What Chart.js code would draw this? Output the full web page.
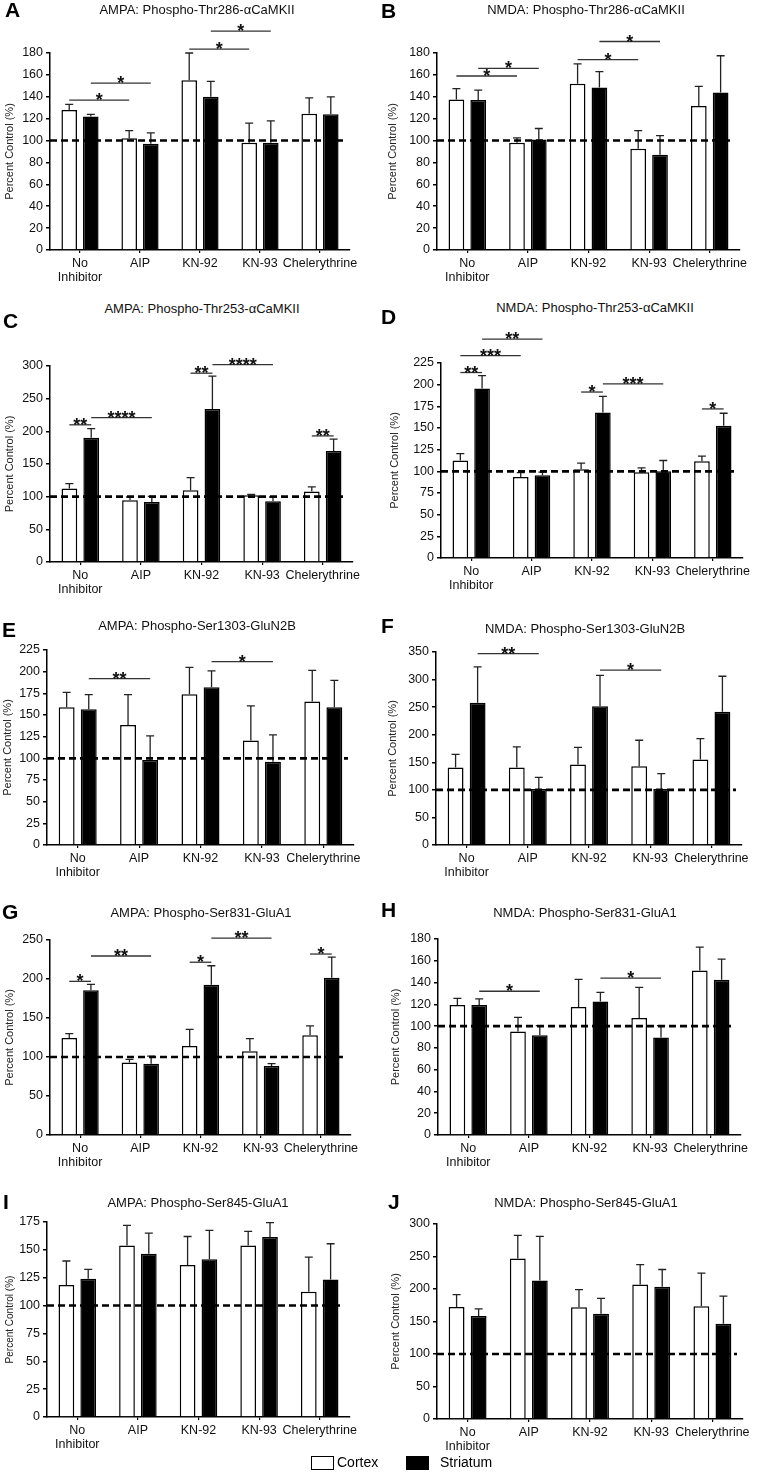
<!DOCTYPE html>
<html>
<head>
<meta charset="utf-8">
<script src="https://cdn.jsdelivr.net/npm/chart.js@4.4.0/dist/chart.umd.min.js"></script>
<style>
  body { margin:0; background:#fff; font-family:"Liberation Sans", Arial, sans-serif; }
  #wrap { position:relative; width:757px; height:1482px; overflow:hidden; }
  canvas { position:absolute; }
  .ttl { position:absolute; font-size:13px; color:#111; white-space:nowrap; transform:translate(-50%,-50%); }
  .let { position:absolute; font-size:21px; font-weight:bold; color:#000; transform:translateY(-50%); }
  .leg { position:absolute; font-size:14px; color:#000; top:1454px; }
  .box { position:absolute; top:1456px; width:21px; height:12px; border:1.5px solid #000; }
</style>
</head>
<body>
<div id="wrap"></div>
<script>
let categories = [['No','Inhibitor'],'AIP','KN-92','KN-93','Chelerythrine']
let seriesNames = ['Cortex','Striatum']

// values, percent of control
let aCortex = [128, 102, 155, 98, 124.5]
let aCortexSem = [5, 7, 25, 18, 14.5]
let aStriatum = [122, 97, 140, 98, 124]
let aStriatumSem = [2, 10, 14, 20, 16]
let aStars = [[0,0,1,0,137,'*'],[0,1,1,1,152.5,'*'],[2,0,3,0,183.5,'*'],[2,1,3,1,200,'*']]

let bCortex = [137.5, 98, 152, 92.5, 131.5]
let bCortexSem = [10, 4.5, 18, 16.5, 18]
let bStriatum = [137, 101, 148.5, 87, 144]
let bStriatumSem = [9, 10, 14.5, 17.5, 33.5]
let bStars = [[0,0,1,0,159,'*'],[0,1,1,1,166,'*'],[2,0,3,0,174,'*'],[2,1,3,1,190.5,'*']]

let cCortex = [112.5, 94.5, 110, 102, 108]
let cCortexSem = [7.5, 5, 19, 1.5, 7]
let cStriatum = [190, 92, 234, 93, 170]
let cStriatumSem = [14, 8.5, 50.5, 6.5, 18]
let cStars = [[0,0,0,1,210,'**'],[0,1,1,1,221,'****'],[2,0,2,1,289,'**'],[2,1,3,1,302,'****'],[4,0,4,1,193,'**']]

let dCortex = [112.5, 93.5, 102.5, 99, 111.5]
let dCortexSem = [8, 5, 7, 5, 6]
let dStriatum = [195.5, 95.5, 168, 100, 152.5]
let dStriatumSem = [15, 3.5, 18.5, 12.5, 14.5]
let dStars = [[0,0,0,1,214,'**'],[0,0,1,0,233.5,'***'],[0,1,1,1,252.5,'**'],[2,0,2,1,191.5,'*'],[2,1,3,1,201,'***'],[4,0,4,1,172,'*']]

let eCortex = [159, 138.5, 174, 120.5, 165.5]
let eCortexSem = [17, 35, 31, 40, 36]
let eStriatum = [156.5, 98, 182, 96, 159]
let eStriatumSem = [17, 28, 19, 31, 31]
let eStars = [[0,1,1,1,192,'**'],[2,1,3,1,211.5,'*']]

let fCortex = [140.5, 140.5, 146, 143, 155]
let fCortexSem = [24, 37.5, 31, 47, 38]
let fStriatum = [258, 101.5, 251.5, 101.5, 241.5]
let fStriatumSem = [65, 21, 56, 28, 64.5]
let fStars = [[0,1,1,1,347,'**'],[2,1,3,1,317,'*']]

let gCortex = [124.5, 93, 114, 107.5, 128]
let gCortexSem = [5.5, 4, 21.5, 16, 12]
let gStriatum = [185.5, 91.5, 192.5, 88.5, 201.5]
let gStriatumSem = [7.5, 9.5, 24.5, 3, 26.5]
let gStars = [[0,0,0,1,197,'*'],[0,1,1,1,229.5,'**'],[2,0,2,1,221.5,'*'],[2,1,3,1,252.5,'**'],[4,0,4,1,232,'*']]

let hCortex = [119.5, 95, 117.5, 107.5, 151]
let hCortexSem = [6, 13, 25.5, 28, 21.5]
let hStriatum = [119.5, 91.5, 122.5, 89.5, 142.5]
let hStriatumSem = [5.5, 9, 8.5, 11, 19]
let hStars = [[0,1,1,1,132,'*'],[2,1,3,1,144,'*']]

let iCortex = [118.5, 154, 136.5, 154, 112.5]
let iCortexSem = [21.5, 18, 25.5, 12.5, 31]
let iStriatum = [124, 146.5, 141.5, 161.5, 123.5]
let iStriatumSem = [8.5, 18.5, 26, 13, 32]
let iStars = []

let jCortex = [172.5, 247, 172, 207, 173.5]
let jCortexSem = [19, 35.5, 27, 30.5, 51]
let jStriatum = [158.5, 213, 162, 203.5, 146.5]
let jStriatumSem = [11, 68, 23.5, 26.5, 42.5]
let jStars = []

let panelLetters = ['A','B','C','D','E','F','G','H','I','J']
let panelTitles = [
  'AMPA: Phospho-Thr286-\u03b1CaMKII', 'NMDA: Phospho-Thr286-\u03b1CaMKII',
  'AMPA: Phospho-Thr253-\u03b1CaMKII', 'NMDA: Phospho-Thr253-\u03b1CaMKII',
  'AMPA: Phospho-Ser1303-GluN2B', 'NMDA: Phospho-Ser1303-GluN2B',
  'AMPA: Phospho-Ser831-GluA1', 'NMDA: Phospho-Ser831-GluA1',
  'AMPA: Phospho-Ser845-GluA1', 'NMDA: Phospho-Ser845-GluA1'
]
let yMax = [180, 180, 300, 225, 225, 350, 250, 180, 175, 300]
let yStep = [20, 20, 50, 25, 25, 50, 50, 20, 25, 50]

let panelData = [
  [aCortex, aCortexSem, aStriatum, aStriatumSem, aStars],
  [bCortex, bCortexSem, bStriatum, bStriatumSem, bStars],
  [cCortex, cCortexSem, cStriatum, cStriatumSem, cStars],
  [dCortex, dCortexSem, dStriatum, dStriatumSem, dStars],
  [eCortex, eCortexSem, eStriatum, eStriatumSem, eStars],
  [fCortex, fCortexSem, fStriatum, fStriatumSem, fStars],
  [gCortex, gCortexSem, gStriatum, gStriatumSem, gStars],
  [hCortex, hCortexSem, hStriatum, hStriatumSem, hStars],
  [iCortex, iCortexSem, iStriatum, iStriatumSem, iStars],
  [jCortex, jCortexSem, jStriatum, jStriatumSem, jStars]
]

// layout: plot area left, top, right, bottom ; y title x ; title centre x,y ; letter x,y
let layout = [
  {l:50, t:53, r:350, b:250, tx:10, hx:197, hy:9, lx:5, ly:10},
  {l:437, t:53, r:740, b:250, tx:15, hx:586, hy:9, lx:381, ly:11},
  {l:50, t:366, r:353, b:562, tx:10, hx:202, hy:308, lx:3, ly:321},
  {l:441, t:363, r:743, b:558, tx:17, hx:595, hy:307, lx:381, ly:317},
  {l:47, t:650, r:354, b:845, tx:8, hx:197, hy:625, lx:2, ly:630},
  {l:436, t:652, r:742, b:845, tx:15, hx:585, hy:628, lx:381, ly:626},
  {l:50, t:940, r:351, b:1135, tx:10, hx:201, hy:912, lx:2, ly:912},
  {l:438, t:939, r:741, b:1135, tx:18, hx:585, hy:912, lx:381, ly:910},
  {l:47, t:1222, r:350, b:1417, tx:11, hx:198, hy:1202, lx:3, ly:1202},
  {l:437, t:1224, r:743, b:1419, tx:18, hx:586, hy:1202, lx:388, ly:1202}
]

const FONT = '"Liberation Sans", Arial, sans-serif'

const extras = {
  id: 'extras',
  afterDatasetsDraw(chart) {
    const ctx = chart.ctx
    const y = chart.scales.y
    const area = chart.chartArea
    const sems = chart.options.plugins.extras.sems
    const stars = chart.options.plugins.extras.stars
    ctx.save()
    // error bars (upper only)
    ctx.strokeStyle = '#222'
    ctx.lineWidth = 1.3
    chart.data.datasets.forEach((ds, di) => {
      chart.getDatasetMeta(di).data.forEach((bar, i) => {
        const top = y.getPixelForValue(ds.data[i] + sems[di][i])
        ctx.beginPath()
        ctx.moveTo(bar.x, bar.y)
        ctx.lineTo(bar.x, top)
        ctx.moveTo(bar.x - 4, top)
        ctx.lineTo(bar.x + 4, top)
        ctx.stroke()
      })
    })
    // control line at 100 %
    const y100 = y.getPixelForValue(100)
    ctx.strokeStyle = '#000'
    ctx.lineWidth = 2.6
    ctx.setLineDash([7, 4])
    ctx.beginPath()
    ctx.moveTo(area.left, y100)
    ctx.lineTo(area.right - 6, y100)
    ctx.stroke()
    ctx.setLineDash([])
    // significance brackets
    ctx.strokeStyle = '#333'
    ctx.lineWidth = 1.3
    ctx.fillStyle = '#111'
    ctx.font = 'bold 18px ' + FONT
    ctx.textAlign = 'center'
    ctx.textBaseline = 'alphabetic'
    stars.forEach(s => {
      const x1 = chart.getDatasetMeta(s[1]).data[s[0]].x
      const x2 = chart.getDatasetMeta(s[3]).data[s[2]].x
      const yy = y.getPixelForValue(s[4])
      ctx.beginPath()
      ctx.moveTo(x1, yy)
      ctx.lineTo(x2, yy)
      ctx.stroke()
      ctx.fillText(s[5], (x1 + x2) / 2, yy + 6)
    })
    ctx.restore()
  }
}

const wrap = document.getElementById('wrap')

panelData.forEach((pd, k) => {
  const L = layout[k]
  const colLeft = k % 2 === 0 ? 0 : 378
  const colWidth = k % 2 === 0 ? 378 : 379
  const cTop = L.t - 48
  const cBottom = L.b + 42
  const canvas = document.createElement('canvas')
  canvas.width = colWidth
  canvas.height = cBottom - cTop
  canvas.style.left = colLeft + 'px'
  canvas.style.top = cTop + 'px'
  wrap.appendChild(canvas)

  const ttl = document.createElement('div')
  ttl.className = 'ttl'
  ttl.style.left = L.hx + 'px'
  ttl.style.top = L.hy + 'px'
  ttl.textContent = panelTitles[k]
  wrap.appendChild(ttl)

  const let_ = document.createElement('div')
  let_.className = 'let'
  let_.style.left = L.lx + 'px'
  let_.style.top = L.ly + 'px'
  let_.textContent = panelLetters[k]
  wrap.appendChild(let_)

  const yw = L.l - colLeft
  const xh = cBottom - L.b
  const tickFont = {family: FONT, size: 12.5, lineHeight: 1.1}

  new Chart(canvas.getContext('2d'), {
    type: 'bar',
    data: {
      labels: categories,
      datasets: [
        {label: seriesNames[0], data: pd[0], backgroundColor: '#fff', borderColor: '#000', borderWidth: 1.5,
         categoryPercentage: 0.72, barPercentage: 0.72},
        {label: seriesNames[1], data: pd[2], backgroundColor: '#000', borderColor: '#000', borderWidth: 1.5,
         categoryPercentage: 0.72, barPercentage: 0.72}
      ]
    },
    options: {
      responsive: false,
      animation: false,
      layout: {padding: {top: L.t - cTop, right: colLeft + colWidth - L.r, left: 0, bottom: 0}},
      plugins: {
        legend: {display: false},
        tooltip: {enabled: false},
        extras: {sems: [pd[1], pd[3]], stars: pd[4]}
      },
      scales: {
        x: {
          grid: {display: true, drawOnChartArea: false, offset: false, color: '#000', tickLength: 3, lineWidth: 1.2},
          border: {display: true, color: '#000', width: 1.5},
          ticks: {color: '#111', font: tickFont, maxRotation: 0, autoSkip: false, padding: 4},
          afterFit: s => { s.height = xh }
        },
        y: {
          min: 0, max: yMax[k],
          ticks: {stepSize: yStep[k], color: '#111', font: tickFont, padding: 3},
          grid: {drawOnChartArea: false, color: '#000', tickLength: 4, lineWidth: 1.5},
          border: {display: true, color: '#000', width: 1.5},
          title: {display: true, text: 'Percent Control (%)', color: '#222',
                  font: {family: FONT, size: k === 8 ? 10 : 11}, padding: {top: L.tx - 7, bottom: 0}},
          afterFit: s => { s.width = yw }
        }
      }
    },
    plugins: [extras]
  })
})

// legend
const legItems = [[311, 337, '#fff', seriesNames[0]], [406, 440, '#000', seriesNames[1]]]
legItems.forEach(it => {
  const b = document.createElement('div')
  b.className = 'box'
  b.style.left = it[0] + 'px'
  b.style.background = it[2]
  wrap.appendChild(b)
  const t = document.createElement('div')
  t.className = 'leg'
  t.style.left = it[1] + 'px'
  t.textContent = it[3]
  wrap.appendChild(t)
})
</script>
</body>
</html>
